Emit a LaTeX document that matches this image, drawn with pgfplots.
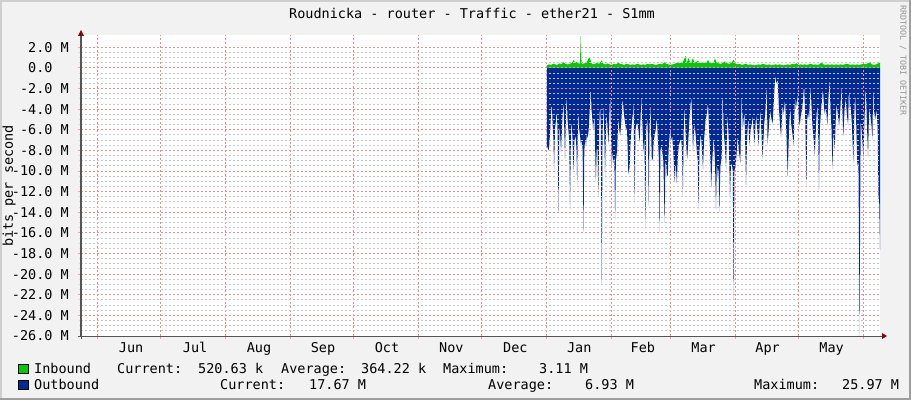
\documentclass[border=0pt]{standalone}
\usepackage{fontspec}
\setmainfont{DejaVu Sans Mono}
\usepackage{pgfplots}
\pgfplotsset{compat=1.18}
\definecolor{bgcol}{RGB}{242,242,242}
\definecolor{shadea}{RGB}{207,207,207}
\definecolor{shadeb}{RGB}{158,158,158}
\definecolor{gridred}{RGB}{242,140,140}
\definecolor{gridgray}{RGB}{200,200,200}
\definecolor{tickred}{RGB}{245,165,165}
\definecolor{tickgray}{RGB}{215,215,215}
\definecolor{axiscol}{RGB}{85,85,85}
\definecolor{arrowcol}{RGB}{130,10,10}
\definecolor{inbound}{RGB}{0,204,0}
\definecolor{outbound}{RGB}{0,42,151}
\newcommand{\rrdfont}{\fontsize{13.5bp}{15bp}\selectfont}
\begin{document}
\begin{tikzpicture}
\fill[bgcol] (-81bp,-64bp) rectangle (830bp,336bp);
\fill[shadea] (-81bp,334bp) rectangle (830bp,336bp);
\fill[shadea] (-81bp,-64bp) rectangle (-79bp,336bp);
\fill[shadeb] (-81bp,-64bp) rectangle (830bp,-62bp);
\fill[shadeb] (828bp,-64bp) rectangle (830bp,336bp);
\begin{axis}[
  at={(0bp,0bp)}, anchor=south west,
  scale only axis, width=799bp, height=301bp,
  xmin=-8.1, xmax=372.9, ymin=-26, ymax=3.2,
  axis lines*=left,
  axis line style={draw=axiscol, line width=1bp},
  axis background/.style={fill=white},
  axis on top,
  tick align=outside,
  major tick length=3bp, minor tick length=2bp,
  every major tick/.style={draw=tickred, line width=1bp},
  every minor tick/.style={draw=tickgray, line width=1bp},
  every axis grid/.style={line width=1bp, dash pattern=on 2bp off 2bp},
  every major grid/.style={draw=gridred},
  every minor grid/.style={draw=gridgray},
  xtick={0,30,61,92,122,153,183,214,245,273,304,334,365},
  xticklabels={},
  extra x ticks={15.8,46.3,76.8,107.3,137.8,168.5,199,229.5,259.8,288.8,319.3,349.8},
  extra x tick labels={Jun,Jul,Aug,Sep,Oct,Nov,Dec,Jan,Feb,Mar,Apr,May},
  extra x tick style={grid=none, major tick length=0pt},
  xticklabel style={font=\rrdfont, anchor=base, inner sep=0pt, yshift=-16bp},
  ytick={-26,-24,...,2},
  yticklabels={-26.0 M,-24.0 M,-22.0 M,-20.0 M,-18.0 M,-16.0 M,-14.0 M,-12.0 M,-10.0 M,-8.0 M,-6.0 M,-4.0 M,-2.0 M,{0.0\hphantom{MM}},2.0 M},
  yticklabel style={font=\rrdfont, anchor=east, inner sep=0pt, xshift=-9bp},
  minor y tick num=3,
  xmajorgrids, ymajorgrids, yminorgrids,
]
\addplot[fill=outbound, draw=none] coordinates {
(214.0,0) (214.0,-7.5) (214.5,-7.8) (215.0,-8.0) (215.5,-6.5) (216.0,-4.5) (216.4,-3.3) (216.8,-5.5) (217.2,-7.0) (217.5,-9.8) (217.9,-6.0)
(218.4,-5.0) (218.8,-4.1) (219.2,-6.5) (219.6,-14.0) (220.0,-6.0) (220.2,-5.6) (220.8,-8.2) (221.3,-5.5) (221.9,-3.2) (222.3,-5.5)
(222.7,-8.8) (223.1,-5.0) (223.5,-2.5) (223.9,-5.0) (224.3,-6.0) (224.7,-7.0) (225.1,-13.7) (225.5,-6.5) (225.9,-5.0) (226.3,-7.0)
(226.7,-10.1) (227.2,-7.0) (227.8,-6.6) (228.2,-8.0) (228.5,-11.4) (228.8,-6.0) (229.1,-4.1) (229.5,-6.0) (229.9,-6.6) (230.3,-7.5)
(230.7,-6.9) (231.1,-8.0) (231.5,-15.9) (231.9,-8.0) (232.3,-6.9) (232.7,-7.5) (233.1,-6.4) (233.5,-6.8) (233.9,-6.2) (234.4,-4.5)
(235.0,-1.6) (235.3,-4.0) (235.6,-4.6) (236.1,-6.0) (236.7,-4.6) (237.0,-7.0) (237.4,-11.1) (237.8,-7.9) (238.2,-7.9) (238.6,-12.4)
(239.0,-6.0) (239.4,-3.3) (239.8,-6.0) (240.2,-21.0) (240.6,-6.5) (241.0,-3.3) (241.4,-6.0) (241.8,-10.5) (242.2,-6.0) (242.6,-4.3)
(243.0,-6.0) (243.4,-7.4) (243.8,-5.0) (244.2,-2.5) (244.6,-6.0) (245.0,-9.6) (245.4,-8.0) (245.8,-9.2) (246.2,-8.5) (246.6,-14.7)
(247.0,-8.0) (247.4,-8.8) (247.8,-6.5) (248.2,-4.8) (248.6,-6.0) (249.0,-6.6) (249.6,-5.0) (250.2,-2.9) (250.8,-4.5) (251.4,-5.4)
(251.8,-6.0) (252.2,-5.6) (252.6,-8.0) (252.9,-10.3) (253.5,-9.6) (254.0,-7.0) (254.5,-5.5) (255.0,-4.5) (255.4,-3.0) (255.9,-13.1)
(256.3,-6.0) (256.7,-5.5) (257.2,-5.3) (257.7,-6.0) (258.3,-7.2) (258.7,-5.0) (259.1,-2.5) (259.5,-5.0) (260.2,-8.2) (260.6,-6.5)
(261.0,-15.6) (261.4,-6.0) (261.9,-4.8) (262.3,-7.0) (262.6,-13.4) (263.0,-6.0) (263.4,-3.3) (263.8,-6.5) (264.1,-9.0) (264.6,-8.8)
(265.0,-7.0) (265.4,-6.6) (265.9,-6.0) (266.5,-4.8) (267.0,-7.0) (267.5,-9.0) (267.8,-16.0) (268.2,-8.0) (268.6,-7.5) (269.1,-8.2)
(269.6,-9.0) (270.2,-15.0) (270.6,-9.0) (271.0,-9.5) (271.3,-10.5) (271.7,-10.4) (272.2,-7.5) (272.9,-5.9) (273.3,-7.0) (273.8,-6.6)
(274.3,-8.0) (275.0,-11.1) (275.5,-9.0) (276.0,-11.2) (276.5,-8.5) (277.0,-7.5) (277.6,-7.0) (278.1,-6.9) (278.5,-8.0) (278.9,-12.4)
(279.3,-6.0) (279.7,-3.5) (280.1,-6.0) (280.7,-8.3) (281.0,-8.8) (281.5,-7.0) (282.0,-5.0) (282.9,-2.7) (283.3,-5.0) (283.7,-8.0)
(284.1,-6.5) (284.5,-5.4) (285.0,-6.5) (285.6,-8.2) (286.0,-9.0) (286.4,-13.7) (286.8,-8.0) (287.4,-6.3) (287.9,-7.5) (288.5,-9.8)
(289.0,-7.0) (289.7,-5.1) (290.3,-4.5) (290.9,-3.3) (291.4,-6.0) (291.9,-8.0) (292.4,-11.6) (292.9,-9.0) (293.6,-6.6) (294.2,-9.0)
(294.7,-13.7) (295.1,-9.0) (295.5,-10.5) (295.9,-9.5) (296.3,-14.0) (296.8,-9.5) (297.4,-8.7) (297.9,-1.6) (298.3,-6.0) (298.9,-7.5)
(299.5,-9.8) (299.9,-6.5) (300.2,-4.3) (300.8,-7.0) (301.4,-12.7) (301.8,-9.5) (302.2,-9.2) (302.7,-10.0) (303.1,-22.5) (303.5,-10.0)
(304.2,-9.2) (304.6,-8.0) (305.0,-6.6) (305.6,-8.0) (306.3,-9.2) (306.9,-2.5) (307.5,-6.0) (308.2,-4.1) (308.6,-7.0) (309.0,-11.4)
(309.5,-7.0) (310.1,-4.6) (310.6,-7.5) (311.2,-6.0) (311.7,-5.5) (312.2,-4.6) (312.6,-6.0) (313.0,-7.4) (313.4,-6.0) (313.8,-4.5)
(314.4,-6.0) (315.0,-7.5) (315.4,-6.0) (315.8,-3.8) (316.3,-6.0) (316.9,-8.8) (317.3,-7.0) (317.7,-5.4) (318.3,-4.0) (318.9,-1.6)
(319.3,-7.5) (319.8,-6.0) (320.2,-5.0) (320.6,-4.1) (321.2,-5.0) (321.7,-5.4) (322.3,-3.0) (323.0,-0.7) (323.5,-1.5) (324.1,-1.1)
(324.6,-3.5) (325.2,-5.5) (325.7,-6.7) (326.1,-5.0) (326.5,-3.5) (327.0,-4.5) (327.6,-3.0) (328.2,-6.0) (328.9,-10.5) (329.5,-6.0)
(330.1,-3.8) (330.6,-5.5) (331.2,-6.5) (331.7,-7.5) (332.0,-5.0) (332.4,-2.7) (332.7,-4.0) (333.1,-3.5) (333.5,-2.5) (334.0,-4.5)
(334.6,-5.6) (335.2,-4.5) (335.8,-4.0) (336.2,-3.0) (336.7,-1.6) (337.2,-4.5) (337.8,-11.6) (338.2,-5.0) (338.6,-4.3) (339.1,-5.0)
(339.8,-1.6) (340.3,-4.0) (340.8,-6.0) (341.3,-7.0) (341.8,-8.4) (342.4,-5.5) (343.0,-3.3) (343.4,-6.0) (343.8,-11.8) (344.2,-6.0)
(344.8,-4.0) (345.3,-3.0) (345.7,-2.0) (346.2,-3.8) (346.6,-4.5) (347.0,-3.8) (347.4,-4.5) (347.8,-5.6) (348.3,-3.0) (348.8,-0.9)
(349.3,-4.0) (349.8,-6.0) (350.2,-9.8) (350.7,-6.0) (351.3,-7.9) (351.8,-5.0) (352.2,-3.5) (352.8,-4.5) (353.4,-5.6) (354.0,-4.0)
(354.5,-1.6) (355.0,-4.5) (355.4,-6.6) (356.0,-4.0) (356.5,-2.9) (357.1,-4.5) (357.7,-5.6) (358.1,-1.6) (358.5,-4.0) (358.9,-3.5)
(359.5,-5.5) (360.2,-9.2) (360.6,-5.0) (361.0,-2.4) (361.5,-5.0) (362.1,-9.5) (362.6,-9.0) (363.0,-20.0) (363.2,-25.97) (363.4,-15.0)
(363.7,-5.0) (364.3,-6.5) (365.0,-8.8) (365.5,-5.0) (366.1,-1.6) (366.6,-5.0) (367.2,-8.7) (367.7,-3.8) (368.2,-4.5) (368.8,-5.5)
(369.3,-6.9) (369.6,-1.6) (370.0,-4.0) (370.6,-5.0) (371.3,-4.0) (371.8,-6.0) (372.2,-12.7) (372.5,-12.7) (372.9,-17.67) (372.9,0)
} \closedcycle;
\addplot[fill=inbound, draw=none] coordinates {
(214,0) (214,0.25) (215,0.35) (216,0.3) (217,0.4) (218,0.35) (219,0.3) (220,0.45) (221,0.35) (222,0.55) (223,0.4) (224,0.35)
(225,0.4) (226,0.5) (226.9,0.8) (227.5,0.45) (228,0.6) (229,0.45) (229.8,0.4) (230.2,3.11) (230.6,0.5) (231,0.4) (232,0.45)
(233,0.5) (233.9,0.93) (234.6,0.97) (235.2,0.5) (236,0.35) (237,0.4) (238,0.5) (239,0.4) (240.2,0.74) (241,0.4) (242,0.35)
(243,0.45) (244,0.35) (245,0.3) (246,0.4) (247,0.35) (248,0.5) (249,0.4) (250,0.35) (251,0.3) (252,0.4) (253,0.35) (254,0.3)
(255,0.35) (256,0.3) (257,0.4) (258,0.35) (259,0.3) (260,0.35) (261,0.3) (262,0.4) (263,0.35) (264,0.4) (265,0.35) (266,0.3)
(267,0.35) (268,0.4) (269,0.35) (270.2,0.55) (271,0.4) (272,0.35) (273,0.3) (274,0.35) (275,0.4) (276,0.5) (277,0.45) (278,0.5)
(279,0.6) (280.2,1.2) (280.7,0.5) (281.7,0.97) (282.3,0.55) (283,0.5) (283.7,1.03) (284.3,0.5) (285,0.55) (286.1,0.71) (287,0.45)
(288,0.55) (289,0.5) (290,0.45) (290.9,0.8) (291.5,0.5) (292.5,0.45) (293.5,0.5) (294.2,0.93) (295,0.5) (296,0.45) (297,0.4)
(298,0.5) (299,0.64) (300,0.45) (301,0.4) (302,0.5) (303.1,0.8) (304,0.45) (305,0.35) (306,0.4) (307,0.3) (308,0.35) (309,0.4)
(310,0.3) (311,0.35) (312,0.3) (313,0.25) (314,0.3) (315,0.35) (316,0.3) (317,0.4) (318,0.35) (319,0.3) (320,0.35) (321,0.25)
(322,0.3) (323,0.35) (324,0.3) (325,0.35) (326,0.3) (327,0.25) (328,0.3) (329,0.35) (330,0.3) (331,0.4) (332,0.35) (333,0.45)
(334,0.3) (335,0.35) (336,0.3) (337,0.35) (338,0.3) (339,0.35) (340,0.4) (341,0.3) (342,0.35) (343,0.3) (344,0.35) (345,0.55)
(346,0.35) (347,0.3) (348,0.35) (349,0.3) (350,0.35) (351,0.3) (352,0.35) (353,0.3) (354,0.35) (355,0.3) (356,0.35) (357,0.4)
(358,0.35) (359,0.3) (360,0.35) (361,0.3) (362,0.35) (363,0.3) (364,0.35) (365,0.4) (366,0.35) (367,0.45) (368,0.55) (369,0.35)
(370,0.3) (371,0.35) (372,0.45) (372.9,0.52) (372.9,0)
} \closedcycle;
\end{axis}
% axis extensions and arrows
\draw[axiscol, line width=1bp] (-3bp,0bp) -- (802bp,0bp);
\draw[axiscol, line width=1bp] (0bp,-3bp) -- (0bp,301bp);
\fill[arrowcol] (806bp,0bp) -- (801bp,3bp) -- (801bp,-3bp) -- cycle;
\fill[arrowcol] (0bp,306bp) -- (-3bp,300bp) -- (3bp,300bp) -- cycle;
% title and labels
\node[font=\rrdfont, anchor=base, inner sep=0pt] at (391bp,317bp) {Roudnicka - router - Traffic - ether21 - S1mm};
\node[font=\rrdfont, anchor=base, inner sep=0pt, rotate=90] at (-68bp,150bp) {bits per second};
\node[text=black!42, anchor=center, inner sep=0pt, rotate=-90] at (822bp,275bp) {\resizebox{110bp}{!}{RRDTOOL / TOBI OETIKER}};
% legend
\filldraw[fill=inbound, draw=black, line width=0.8bp] (-63bp,-37bp) rectangle (-53bp,-28bp);
\filldraw[fill=outbound, draw=black, line width=0.8bp] (-63bp,-53bp) rectangle (-53bp,-44bp);
\begin{scope}[every node/.style={font=\rrdfont, anchor=base west, inner sep=0pt}]
\node at (-47bp,-37bp) {Inbound};
\node at (36bp,-37bp) {Current:};
\node at (117bp,-37bp) {520.63 k};
\node at (200bp,-37bp) {Average:};
\node at (280bp,-37bp) {364.22 k};
\node at (362bp,-37bp) {Maximum:};
\node at (458bp,-37bp) {3.11 M};
\node at (-47bp,-53bp) {Outbound};
\node at (139bp,-53bp) {Current:};
\node at (228bp,-53bp) {17.67 M};
\node at (407bp,-53bp) {Average:};
\node at (504bp,-53bp) {6.93 M};
\node at (673bp,-53bp) {Maximum:};
\node at (761bp,-53bp) {25.97 M};
\end{scope}
\pgfresetboundingbox
\useasboundingbox (-81bp,-64bp) rectangle (830bp,336bp);
\end{tikzpicture}
\end{document}
